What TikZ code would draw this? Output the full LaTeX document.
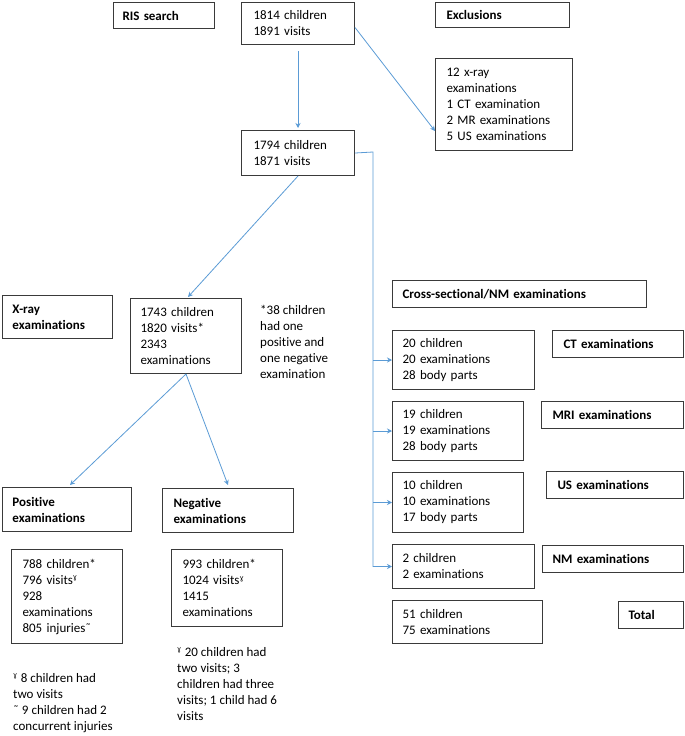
\documentclass[tikz,border=0pt]{standalone}
\usepackage{fontspec}
\setmainfont{Carlito}[RawFeature={-liga}]
\newfontfamily\djv{DejaVu Sans}
\usetikzlibrary{arrows.meta}
\definecolor{lineblue}{HTML}{5B9BD5}
\definecolor{boxgrey}{HTML}{3A3A3A}
\newcommand\gam{\textsuperscript{\djv\fontsize{7}{7}\selectfont ɣ}}
\begin{document}
\begin{tikzpicture}[x=1pt,y=-1pt,
  box/.style={draw=boxgrey,line width=1pt,rectangle,anchor=north west,align=left,inner ysep=0pt,
    font=\fontsize{13}{16}\selectfont,text=black},
  hbox/.style={box,font=\fontsize{13}{16}\selectfont\bfseries},
  plain/.style={anchor=north west,align=left,inner sep=0pt,font=\fontsize{13}{16}\selectfont},
  conn/.style={draw=lineblue,line width=0.8pt},
  arr/.style={conn,-{Stealth[length=5pt,width=5pt]}}]
\useasboundingbox (0,0) rectangle (685,736);
% top row
\node[hbox,inner xsep=9pt,text width=83pt,minimum height=26pt] (ris) at (113,2) {RIS search};
\node[box,inner xsep=12pt,text width=89pt,minimum height=42pt] (n1814) at (241,2) {1814 children\\1891 visits};
\node[hbox,inner xsep=11pt,text width=112pt,minimum height=25pt] (excl) at (435,2) {Exclusions};
\node[box,inner xsep=11pt,text width=115pt,minimum height=92pt] (exbox) at (435,58) {12 x-ray\\examinations\\1 CT examination\\2 MR examinations\\5 US examinations};
\node[box,inner xsep=12pt,text width=89pt,minimum height=45pt] (n1794) at (241,130) {1794 children\\1871 visits};
% x-ray column
\node[hbox,inner xsep=10pt,text width=90pt,minimum height=43pt] (xray) at (2,295) {X-ray\\examinations};
\node[box,inner xsep=10pt,text width=91pt,minimum height=75pt] (n1743) at (130,298) {1743 children\\1820 visits*\\2343\\examinations};
\node[plain] (note) at (260,305) {*38 children\\had one\\positive and\\one negative\\examination};
\node[hbox,inner xsep=10pt,text width=109pt,minimum height=44pt] (pos) at (2,487) {Positive\\examinations};
\node[hbox,inner xsep=11pt,text width=109pt,minimum height=44pt] (neg) at (162,488) {Negative\\examinations};
\node[box,inner xsep=11pt,text width=89pt,minimum height=94pt] (n788) at (11,549) {788 children*\\796 visits\gam\\928\\examinations\\805 injuries˜};
\node[box,inner xsep=11pt,text width=89pt,minimum height=77pt] (n993) at (171,549) {993 children*\\1024 visits\gam\\1415\\examinations};
\node[plain] (foot1) at (13,673) {\gam\ 8 children had\\two visits\\˜ 9 children had 2\\concurrent injuries};
\node[plain] (foot2) at (177,647) {\gam\ 20 children had\\two visits; 3\\children had three\\visits; 1 child had 6\\visits};
% cross-sectional column
\node[hbox,inner xsep=10pt,text width=234pt,minimum height=27pt] (cross) at (392,280) {Cross-sectional/NM examinations};
\node[box,inner xsep=10pt,text width=122pt,minimum height=59pt] (ct) at (392,330) {20 children\\20 examinations\\28 body parts};
\node[hbox,inner xsep=11pt,text width=109pt,minimum height=27pt] (ctl) at (552,330) {CT examinations};
\node[box,inner xsep=10pt,text width=111pt,minimum height=59pt] (mri) at (392,401) {19 children\\19 examinations\\28 body parts};
\node[hbox,inner xsep=11pt,text width=120pt,minimum height=27pt] (mril) at (541,401) {MRI examinations};
\node[box,inner xsep=10pt,text width=111pt,minimum height=60pt] (us) at (392,472) {10 children\\10 examinations\\17 body parts};
\node[hbox,inner xsep=11pt,text width=115pt,minimum height=27pt] (usl) at (546,471) {US examinations};
\node[box,inner xsep=10pt,text width=122pt,minimum height=44pt] (nm) at (392,544) {2 children\\2 examinations};
\node[hbox,inner xsep=10pt,text width=121pt,minimum height=27pt] (nml) at (542,545) {NM examinations};
\node[box,inner xsep=10pt,text width=130pt,minimum height=43pt] (tot) at (392,600) {51 children\\75 examinations};
\node[hbox,inner xsep=10pt,text width=45pt,minimum height=27pt] (totl) at (618,601) {Total};
% connectors
\draw[arr] ([yshift=-6pt]n1814.south) -- ([yshift=2pt]n1794.north);
\draw[arr] ([yshift=-4pt]n1814.east) -- ([yshift=20pt]exbox.south west);
\draw[arr] (n1794.south) -- ([xshift=2pt,yshift=1pt]n1743.north);
\draw[arr] (n1743.south) -- ([xshift=3pt,yshift=2pt]pos.north);
\draw[arr] (n1743.south) -- ([yshift=3pt]neg.north);
\coordinate (bus) at (373,152);
\draw[arr] (n1794.east) -- (bus) |- (nm.west);
\draw[arr] (bus |- ct.west) -- (ct.west);
\draw[arr] (bus |- mri.west) -- (mri.west);
\draw[arr] (bus |- us.west) -- (us.west);
\end{tikzpicture}
\end{document}
